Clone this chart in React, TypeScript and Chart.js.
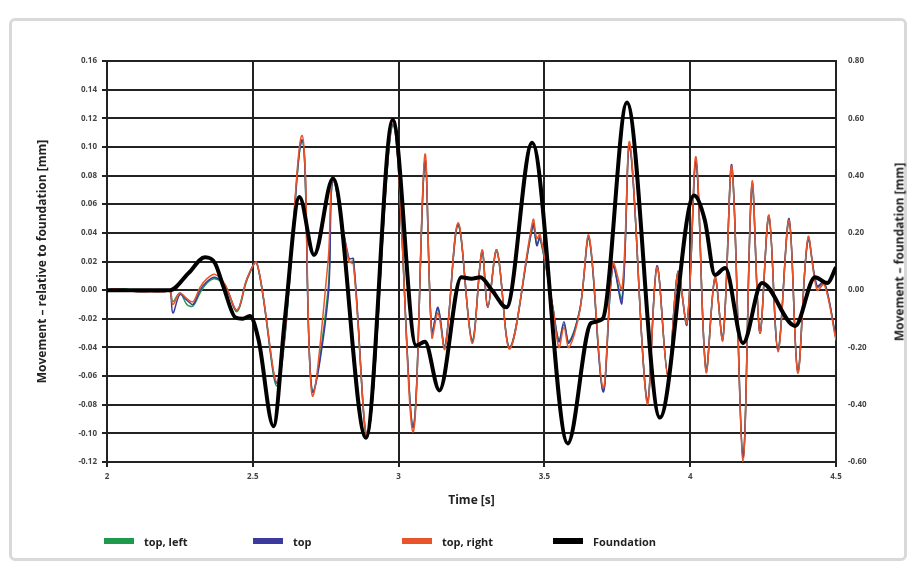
import React, { useEffect, useRef } from "react";
import { Chart, registerables } from "chart.js";

Chart.register(...registerables);

// Time axis for the three top sensors [s]
const timeTop = [
  2.0, 2.03, 2.06, 2.1, 2.15, 2.2, 2.216, 2.226, 2.25, 2.274, 2.295, 2.319, 2.343, 2.37, 2.405,
  2.446, 2.48, 2.514, 2.586, 2.669, 2.703, 2.758, 2.775, 2.83, 2.845, 2.895, 2.981, 3.049, 3.09,
  3.114, 3.135, 3.159, 3.204, 3.252, 3.286, 3.306, 3.337, 3.382, 3.461, 3.474, 3.485, 3.529, 3.55,
  3.567, 3.584, 3.622, 3.653, 3.701, 3.735, 3.766, 3.793, 3.852, 3.886, 3.924, 3.958, 3.989, 4.02,
  4.054, 4.085, 4.112, 4.143, 4.181, 4.212, 4.239, 4.27, 4.301, 4.339, 4.369, 4.404, 4.435, 4.46, 4.5,
];

// Movement relative to foundation [mm]
const topRight = [
  0.0, 0.001, 0.0, -0.001, -0.001, -0.001, 0.0, -0.01, -0.002, -0.006, -0.008, 0.002, 0.008, 0.011, 0.004,
  -0.014, 0.008, 0.019, -0.063, 0.108, -0.073, 0.02, 0.077, 0.02, 0.018, -0.1, 0.117, -0.099, 0.0945,
  -0.033, -0.016, -0.041, 0.047, -0.037, 0.028, -0.012, 0.028, -0.041, 0.049, 0.036, 0.039, -0.012, -0.04,
  -0.026, -0.04, -0.014, 0.038, -0.068, 0.019, 0.001, 0.103, -0.079, 0.016, -0.061, 0.0126, -0.023, 0.093,
  -0.057, 0.009, -0.035, 0.086, -0.12, 0.0756, -0.03, 0.0525, -0.043, 0.049, -0.058, 0.037, 0.0, 0.004, -0.035,
];

const topCenter = [
  0.0, 0.001, 0.0, -0.001, -0.001, -0.001, 0.0, -0.016, -0.003, -0.007, -0.01, 0.0, 0.006, 0.009, 0.003,
  -0.014, 0.008, 0.019, -0.064, 0.105, -0.07, -0.006, 0.077, 0.022, 0.022, -0.101, 0.116, -0.096, 0.09,
  -0.03, -0.012, -0.04, 0.046, -0.036, 0.027, -0.012, 0.028, -0.04, 0.046, 0.031, 0.037, -0.012, -0.036,
  -0.022, -0.037, -0.013, 0.037, -0.071, 0.017, -0.009, 0.101, -0.078, 0.017, -0.06, 0.013, -0.024, 0.09,
  -0.056, 0.009, -0.034, 0.087, -0.117, 0.074, -0.03, 0.052, -0.042, 0.05, -0.057, 0.036, 0.003, 0.006, -0.034,
];

const topLeft = [
  0.0, 0.0, 0.001, -0.001, -0.001, -0.001, 0.0, -0.008, -0.002, -0.01, -0.011, -0.002, 0.005, 0.008, 0.003,
  -0.015, 0.007, 0.019, -0.066, 0.104, -0.07, 0.0, 0.076, 0.02, 0.02, -0.102, 0.115, -0.095, 0.09,
  -0.03, -0.013, -0.04, 0.045, -0.035, 0.027, -0.012, 0.027, -0.04, 0.045, 0.032, 0.036, -0.012, -0.035,
  -0.024, -0.036, -0.013, 0.036, -0.07, 0.017, -0.006, 0.1, -0.077, 0.016, -0.06, 0.012, -0.023, 0.089,
  -0.055, 0.008, -0.034, 0.085, -0.116, 0.073, -0.029, 0.051, -0.041, 0.048, -0.056, 0.035, 0.002, 0.005, -0.033,
];

// Foundation movement [mm] (right axis)
const timeFoundation = [
  2.0, 2.1, 2.216, 2.28, 2.336, 2.37, 2.4, 2.44, 2.465, 2.49, 2.52, 2.571, 2.61, 2.66, 2.71, 2.775,
  2.888, 2.98, 3.06, 3.09, 3.14, 3.215, 3.25, 3.28, 3.32, 3.37, 3.458, 3.58, 3.66, 3.7, 3.783, 3.896,
  4.013, 4.05, 4.085, 4.12, 4.181, 4.246, 4.36, 4.428, 4.47, 4.5,
];

const foundation = [
  0.0, 0.0, 0.0, 0.06, 0.115, 0.095, 0.01, -0.095, -0.1, -0.09, -0.175, -0.475, -0.1, 0.325, 0.123, 0.39,
  -0.515, 0.595, -0.193, -0.18, -0.35, 0.045, 0.04, 0.045, 0.0, -0.06, 0.515, -0.535, -0.115, -0.1, 0.655, -0.445,
  0.33, 0.245, 0.053, 0.077, -0.185, 0.025, -0.125, 0.045, 0.025, 0.08,
];

const legendItems = [
  { label: "top, left", color: "#1f9a4c" },
  { label: "top", color: "#3b3a9e" },
  { label: "top, right", color: "#e8552b" },
  { label: "Foundation", color: "#000000" },
];

const rightTitle = "Movement – foundation [mm]";

const FONT = "'Open Sans', 'DejaVu Sans', sans-serif";

export default function App() {
  const ref = useRef<HTMLCanvasElement>(null);

  useEffect(() => {
    const canvas = ref.current;
    if (!canvas) return;
    const gridColor = "#222222";
    const tickFont = { family: FONT, size: 8, weight: "bold" as const };
    const titleFont = { family: FONT, size: 12, weight: "bold" as const };
    const fmt2 = (v: number | string) => {
      const n = Number(v);
      return (Math.abs(n) < 1e-9 ? 0 : n).toFixed(2);
    };
    const chart = new Chart(canvas, {
      type: "line",
      data: {
        datasets: [
          {
            label: "Foundation",
            data: timeFoundation.map((t, i) => ({ x: t, y: foundation[i] })),
            yAxisID: "y2",
            borderColor: "#000000",
            borderWidth: 4,
            pointRadius: 0,
            cubicInterpolationMode: "monotone",
          },
          {
            label: "top, right",
            data: timeTop.map((t, i) => ({ x: t, y: topRight[i] })),
            yAxisID: "y",
            borderColor: "#e8552b",
            borderWidth: 1.5,
            pointRadius: 0,
            tension: 0.35,
          },
          {
            label: "top",
            data: timeTop.map((t, i) => ({ x: t, y: topCenter[i] })),
            yAxisID: "y",
            borderColor: "#3b3a9e",
            borderWidth: 1.5,
            pointRadius: 0,
            tension: 0.35,
          },
          {
            label: "top, left",
            data: timeTop.map((t, i) => ({ x: t, y: topLeft[i] })),
            yAxisID: "y",
            borderColor: "#1f9a4c",
            borderWidth: 1.5,
            pointRadius: 0,
            tension: 0.35,
          },
        ],
      },
      options: {
        animation: false,
        responsive: false,
        devicePixelRatio: 1,
        layout: { padding: { top: 61, left: 0, right: 0, bottom: 0 } },
        plugins: { legend: { display: false }, tooltip: { enabled: false } },
        scales: {
          x: {
            type: "linear",
            min: 2,
            max: 4.5,
            ticks: {
              stepSize: 0.5,
              color: "#444",
              font: tickFont,
              padding: 5,
              maxRotation: 0,
              callback: (v) => String(Number(v)),
            },
            grid: { color: gridColor, lineWidth: 2, tickLength: 5 },
            border: { display: true, color: "#222", width: 2 },
            title: { display: true, text: "Time [s]", color: "#222", font: titleFont, padding: { top: 0, bottom: 60 } },
            afterFit: (s: any) => {
              s.height = 106;
            },
          },
          y: {
            type: "linear",
            position: "left",
            min: -0.12,
            max: 0.16,
            ticks: { stepSize: 0.02, color: "#444", font: tickFont, padding: 5, callback: (v) => fmt2(v) },
            grid: { color: gridColor, lineWidth: 2, tickLength: 5 },
            border: { display: true, color: "#222", width: 2 },
            title: {
              display: true,
              text: "Movement – relative to foundation [mm]",
              color: "#222",
              font: titleFont,
              padding: { top: 35, bottom: 0 },
            },
            afterFit: (s: any) => {
              s.width = 107;
            },
          },
          y2: {
            type: "linear",
            position: "right",
            min: -0.6,
            max: 0.8,
            ticks: { stepSize: 0.2, color: "#444", font: tickFont, padding: 12, callback: (v) => fmt2(v) },
            grid: { display: false, drawTicks: false },
            border: { display: true, color: "#222", width: 2 },
            title: { display: false },
            afterFit: (s: any) => {
              s.width = 83;
            },
          },
        },
      },
    });
    return () => chart.destroy();
  }, []);

  const legendX = [104, 253, 402, 553];

  return (
    <div style={{ position: "fixed", left: 0, top: 0, width: 919, height: 568, background: "#ffffff", overflow: "hidden" }}>
      <div
        style={{
          position: "absolute",
          left: 9,
          top: 18,
          width: 898,
          height: 543,
          border: "3px solid #d9d9d9",
          borderRadius: 6,
          boxSizing: "border-box",
        }}
      />
      <canvas ref={ref} width={919} height={568} style={{ position: "absolute", left: 0, top: 0, width: 919, height: 568 }} />
      <div
        style={{
          position: "absolute",
          left: 899,
          top: 252,
          transform: "translate(-50%, -50%) rotate(-90deg)",
          whiteSpace: "nowrap",
          fontFamily: FONT,
          fontWeight: 700,
          fontSize: 12,
          color: "#222",
        }}
      >
        {rightTitle}
      </div>
      {legendItems.map((it, i) => (
        <div
          key={it.label}
          style={{
            position: "absolute",
            left: legendX[i],
            top: 533,
            height: 16,
            display: "flex",
            alignItems: "center",
            fontFamily: FONT,
            fontWeight: 700,
            fontSize: 11,
            color: "#222",
            whiteSpace: "nowrap",
          }}
        >
          <span style={{ display: "inline-block", width: 30, height: 6, background: it.color, marginRight: 10 }} />
          <span>{it.label}</span>
        </div>
      ))}
    </div>
  );
}
